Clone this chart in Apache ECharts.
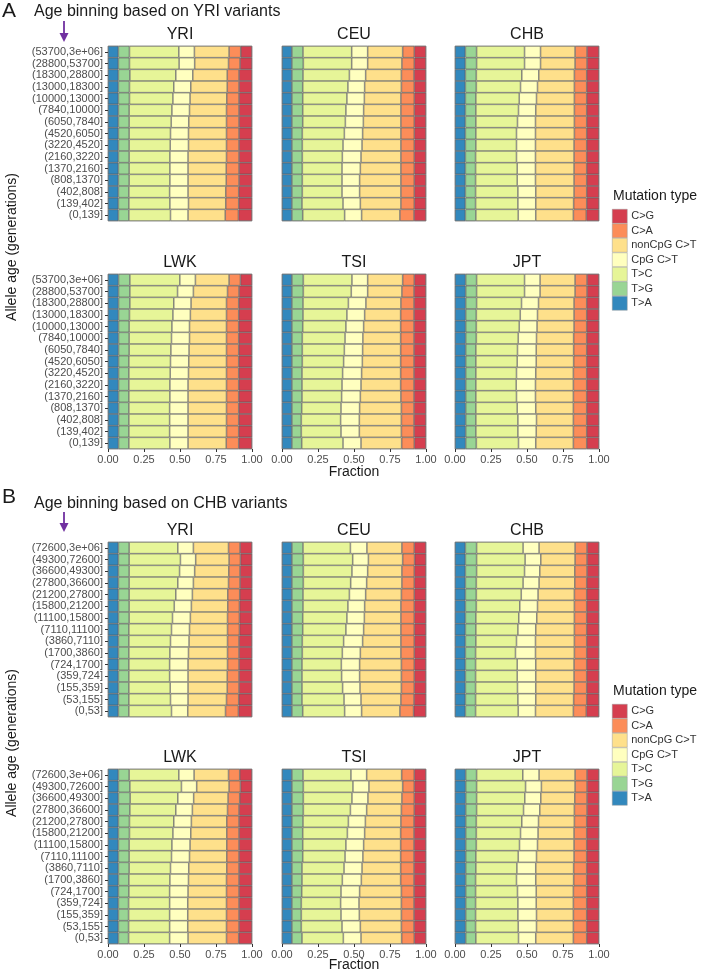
<!DOCTYPE html>
<html><head><meta charset="utf-8">
<script src="https://cdn.jsdelivr.net/npm/echarts@6/dist/echarts.min.js"></script>
<style>html,body{margin:0;padding:0;background:#fff}#c{width:701px;height:973px}</style>
</head><body><div id="c"></div>
<script>
// ---- categories / labels ----
const typeNames = ['T>A','T>G','T>C','CpG C>T','nonCpG C>T','C>A','C>G'];
const typeColors = ['#3288BD','#99D594','#E6F598','#FFFFBF','#FEE08B','#FC8D59','#D53E4F'];
const legendOrder = ['C>G','C>A','nonCpG C>T','CpG C>T','T>C','T>G','T>A'];
const populations = ['YRI','CEU','CHB','LWK','TSI','JPT'];
const agesA = ['(53700,3e+06]','(28800,53700]','(18300,28800]','(13000,18300]','(10000,13000]','(7840,10000]','(6050,7840]','(4520,6050]','(3220,4520]','(2160,3220]','(1370,2160]','(808,1370]','(402,808]','(139,402]','(0,139]'];
const agesB = ['(72600,3e+06]','(49300,72600]','(36600,49300]','(27800,36600]','(21200,27800]','(15800,21200]','(11100,15800]','(7110,11100]','(3860,7110]','(1700,3860]','(724,1700]','(359,724]','(155,359]','(53,155]','(0,53]'];

// ---- cumulative right edge of each mutation type per age bin (top bin first) ----
// Panel A
const A_YRI_TA  = [0.072,0.072,0.072,0.072,0.072,0.072,0.072,0.072,0.072,0.072,0.072,0.072,0.072,0.072,0.072];
const A_YRI_TG  = [0.149,0.149,0.152,0.149,0.149,0.147,0.147,0.147,0.147,0.147,0.147,0.147,0.145,0.145,0.145];
const A_YRI_TC  = [0.492,0.494,0.471,0.457,0.451,0.444,0.439,0.434,0.432,0.430,0.430,0.430,0.428,0.430,0.434];
const A_YRI_CpG = [0.600,0.602,0.589,0.575,0.570,0.566,0.561,0.559,0.559,0.556,0.556,0.556,0.556,0.559,0.556];
const A_YRI_non = [0.841,0.837,0.828,0.828,0.825,0.823,0.823,0.823,0.823,0.823,0.821,0.821,0.818,0.818,0.814];
const A_YRI_CA  = [0.922,0.917,0.910,0.910,0.910,0.910,0.910,0.910,0.910,0.910,0.910,0.910,0.908,0.908,0.906];

const A_CEU_TA  = [0.069,0.069,0.069,0.069,0.069,0.069,0.069,0.069,0.069,0.069,0.069,0.069,0.069,0.069,0.069];
const A_CEU_TG  = [0.146,0.148,0.146,0.144,0.144,0.144,0.144,0.141,0.141,0.141,0.141,0.141,0.141,0.139,0.144];
const A_CEU_TC  = [0.484,0.484,0.468,0.458,0.451,0.444,0.440,0.433,0.424,0.419,0.417,0.417,0.417,0.424,0.435];
const A_CEU_CpG = [0.595,0.595,0.581,0.574,0.572,0.567,0.565,0.560,0.556,0.549,0.544,0.539,0.539,0.544,0.553];
const A_CEU_non = [0.838,0.833,0.829,0.829,0.826,0.826,0.826,0.826,0.826,0.826,0.826,0.826,0.826,0.826,0.819];
const A_CEU_CA  = [0.919,0.919,0.917,0.919,0.919,0.919,0.919,0.919,0.919,0.919,0.919,0.919,0.919,0.919,0.917];

const A_CHB_TA  = [0.072,0.072,0.072,0.072,0.072,0.072,0.072,0.072,0.072,0.072,0.072,0.072,0.072,0.072,0.072];
const A_CHB_TG  = [0.150,0.150,0.148,0.148,0.145,0.145,0.145,0.145,0.145,0.143,0.143,0.143,0.143,0.143,0.145];
const A_CHB_TC  = [0.483,0.483,0.464,0.455,0.446,0.441,0.434,0.427,0.427,0.427,0.432,0.432,0.437,0.437,0.439];
const A_CHB_CpG = [0.594,0.594,0.582,0.573,0.566,0.561,0.559,0.559,0.559,0.559,0.559,0.559,0.561,0.561,0.561];
const A_CHB_non = [0.834,0.834,0.829,0.829,0.829,0.829,0.829,0.829,0.827,0.827,0.827,0.827,0.827,0.824,0.822];
const A_CHB_CA  = [0.917,0.917,0.915,0.915,0.915,0.915,0.915,0.915,0.915,0.915,0.915,0.915,0.915,0.915,0.912];

const A_LWK_TA  = [0.073,0.073,0.073,0.073,0.073,0.073,0.073,0.073,0.073,0.073,0.073,0.073,0.073,0.073,0.073];
const A_LWK_TG  = [0.152,0.152,0.152,0.149,0.147,0.147,0.147,0.145,0.145,0.145,0.145,0.145,0.145,0.145,0.145];
const A_LWK_TC  = [0.499,0.483,0.457,0.451,0.444,0.441,0.437,0.434,0.432,0.430,0.430,0.428,0.428,0.428,0.430];
const A_LWK_CpG = [0.607,0.593,0.577,0.572,0.566,0.566,0.563,0.561,0.559,0.556,0.556,0.556,0.556,0.556,0.556];
const A_LWK_non = [0.841,0.830,0.823,0.823,0.823,0.823,0.823,0.823,0.823,0.823,0.823,0.823,0.823,0.823,0.821];
const A_LWK_CA  = [0.920,0.910,0.908,0.908,0.908,0.908,0.908,0.908,0.908,0.908,0.908,0.908,0.908,0.908,0.908];

const A_TSI_TA  = [0.069,0.069,0.069,0.069,0.069,0.069,0.069,0.069,0.069,0.069,0.069,0.069,0.069,0.069,0.069];
const A_TSI_TG  = [0.148,0.148,0.146,0.146,0.144,0.141,0.141,0.141,0.139,0.139,0.139,0.137,0.134,0.134,0.137];
const A_TSI_TC  = [0.486,0.481,0.461,0.451,0.444,0.438,0.433,0.428,0.421,0.417,0.414,0.410,0.407,0.410,0.424];
const A_TSI_CpG = [0.595,0.595,0.583,0.574,0.567,0.562,0.560,0.558,0.553,0.549,0.544,0.539,0.537,0.537,0.549];
const A_TSI_non = [0.838,0.833,0.826,0.824,0.824,0.824,0.824,0.824,0.824,0.824,0.826,0.829,0.829,0.829,0.831];
const A_TSI_CA  = [0.919,0.917,0.917,0.917,0.917,0.917,0.917,0.917,0.917,0.917,0.917,0.917,0.917,0.917,0.919];

const A_JPT_TA  = [0.074,0.074,0.074,0.074,0.074,0.074,0.074,0.074,0.074,0.074,0.074,0.074,0.074,0.074,0.074];
const A_JPT_TG  = [0.150,0.150,0.150,0.148,0.148,0.148,0.145,0.145,0.145,0.145,0.145,0.145,0.145,0.145,0.148];
const A_JPT_TC  = [0.483,0.483,0.462,0.453,0.446,0.439,0.434,0.432,0.427,0.425,0.427,0.432,0.437,0.437,0.441];
const A_JPT_CpG = [0.591,0.591,0.580,0.573,0.570,0.566,0.564,0.564,0.561,0.559,0.559,0.561,0.566,0.564,0.561];
const A_JPT_non = [0.834,0.834,0.827,0.827,0.827,0.824,0.824,0.824,0.822,0.822,0.822,0.822,0.822,0.822,0.822];
const A_JPT_CA  = [0.917,0.917,0.915,0.915,0.915,0.915,0.915,0.915,0.915,0.915,0.915,0.915,0.915,0.915,0.915];

// Panel B
const B_YRI_TA  = [0.072,0.072,0.072,0.072,0.072,0.072,0.072,0.072,0.072,0.072,0.072,0.072,0.072,0.072,0.072];
const B_YRI_TG  = [0.147,0.147,0.147,0.147,0.147,0.147,0.147,0.145,0.145,0.145,0.145,0.145,0.145,0.145,0.145];
const B_YRI_TC  = [0.485,0.503,0.497,0.485,0.471,0.460,0.448,0.441,0.434,0.430,0.428,0.428,0.432,0.434,0.441];
const B_YRI_CpG = [0.593,0.609,0.602,0.593,0.586,0.579,0.572,0.566,0.563,0.559,0.556,0.556,0.556,0.556,0.554];
const B_YRI_non = [0.837,0.841,0.839,0.837,0.832,0.832,0.830,0.830,0.830,0.830,0.830,0.828,0.828,0.823,0.816];
const B_YRI_CA  = [0.917,0.920,0.917,0.917,0.915,0.913,0.913,0.913,0.910,0.910,0.910,0.910,0.910,0.908,0.906];

const B_CEU_TA  = [0.069,0.069,0.069,0.069,0.069,0.069,0.069,0.069,0.069,0.069,0.069,0.069,0.069,0.069,0.069];
const B_CEU_TG  = [0.146,0.148,0.148,0.148,0.146,0.146,0.144,0.144,0.141,0.141,0.139,0.139,0.139,0.139,0.144];
const B_CEU_TC  = [0.475,0.491,0.486,0.477,0.468,0.458,0.451,0.444,0.428,0.419,0.412,0.414,0.421,0.431,0.435];
const B_CEU_CpG = [0.590,0.600,0.595,0.588,0.581,0.574,0.572,0.567,0.560,0.544,0.539,0.539,0.542,0.549,0.553];
const B_CEU_non = [0.833,0.838,0.833,0.833,0.829,0.826,0.826,0.826,0.826,0.826,0.829,0.829,0.829,0.826,0.819];
const B_CEU_CA  = [0.919,0.921,0.919,0.919,0.919,0.919,0.919,0.919,0.919,0.919,0.919,0.919,0.919,0.917,0.914];

const B_CHB_TA  = [0.072,0.072,0.072,0.072,0.072,0.072,0.072,0.072,0.072,0.072,0.072,0.072,0.072,0.072,0.072];
const B_CHB_TG  = [0.150,0.150,0.150,0.148,0.148,0.148,0.145,0.145,0.145,0.143,0.143,0.143,0.143,0.143,0.143];
const B_CHB_TC  = [0.473,0.487,0.483,0.473,0.460,0.450,0.443,0.437,0.427,0.420,0.432,0.432,0.434,0.437,0.439];
const B_CHB_CpG = [0.584,0.596,0.589,0.584,0.577,0.573,0.568,0.561,0.559,0.559,0.561,0.561,0.561,0.561,0.559];
const B_CHB_non = [0.834,0.834,0.832,0.832,0.829,0.829,0.829,0.829,0.829,0.829,0.827,0.827,0.827,0.824,0.822];
const B_CHB_CA  = [0.917,0.917,0.917,0.915,0.915,0.915,0.915,0.915,0.915,0.915,0.915,0.915,0.915,0.915,0.912];

const B_LWK_TA  = [0.072,0.072,0.072,0.072,0.072,0.072,0.072,0.072,0.072,0.072,0.072,0.072,0.072,0.072,0.072];
const B_LWK_TG  = [0.147,0.152,0.154,0.152,0.149,0.149,0.147,0.147,0.147,0.145,0.145,0.143,0.143,0.143,0.143];
const B_LWK_TC  = [0.492,0.510,0.485,0.471,0.457,0.451,0.444,0.441,0.434,0.430,0.428,0.428,0.428,0.428,0.428];
const B_LWK_CpG = [0.598,0.616,0.595,0.586,0.579,0.575,0.570,0.566,0.561,0.559,0.556,0.554,0.554,0.554,0.556];
const B_LWK_non = [0.837,0.841,0.834,0.830,0.825,0.825,0.825,0.825,0.825,0.823,0.823,0.823,0.823,0.823,0.823];
const B_LWK_CA  = [0.915,0.920,0.915,0.910,0.910,0.910,0.910,0.910,0.910,0.910,0.910,0.910,0.910,0.910,0.908];

const B_TSI_TA  = [0.069,0.069,0.069,0.069,0.069,0.069,0.069,0.069,0.069,0.069,0.069,0.069,0.069,0.069,0.069];
const B_TSI_TG  = [0.146,0.148,0.148,0.148,0.146,0.144,0.144,0.144,0.139,0.139,0.137,0.134,0.134,0.134,0.139];
const B_TSI_TC  = [0.479,0.493,0.486,0.475,0.461,0.454,0.444,0.438,0.431,0.419,0.410,0.407,0.410,0.417,0.426];
const B_TSI_CpG = [0.588,0.604,0.597,0.588,0.579,0.574,0.567,0.562,0.556,0.551,0.539,0.535,0.537,0.544,0.549];
const B_TSI_non = [0.831,0.838,0.833,0.829,0.826,0.824,0.824,0.824,0.824,0.824,0.829,0.829,0.829,0.829,0.831];
const B_TSI_CA  = [0.919,0.919,0.919,0.919,0.917,0.917,0.917,0.917,0.917,0.917,0.917,0.917,0.917,0.917,0.919];

const B_JPT_TA  = [0.074,0.074,0.074,0.074,0.074,0.074,0.074,0.074,0.074,0.074,0.074,0.074,0.074,0.074,0.074];
const B_JPT_TG  = [0.150,0.150,0.150,0.150,0.148,0.148,0.148,0.145,0.145,0.143,0.143,0.143,0.143,0.143,0.145];
const B_JPT_TC  = [0.471,0.490,0.485,0.476,0.464,0.455,0.448,0.439,0.430,0.427,0.434,0.437,0.437,0.439,0.441];
const B_JPT_CpG = [0.584,0.600,0.596,0.589,0.580,0.577,0.573,0.566,0.561,0.561,0.564,0.564,0.566,0.566,0.561];
const B_JPT_non = [0.834,0.834,0.832,0.829,0.829,0.827,0.827,0.827,0.824,0.824,0.822,0.822,0.822,0.822,0.822];
const B_JPT_CA  = [0.917,0.917,0.917,0.917,0.915,0.915,0.915,0.915,0.915,0.915,0.915,0.915,0.915,0.915,0.915];

// ---- assemble ----
const facetEdges = {
  A: [[A_YRI_TA,A_YRI_TG,A_YRI_TC,A_YRI_CpG,A_YRI_non,A_YRI_CA],
      [A_CEU_TA,A_CEU_TG,A_CEU_TC,A_CEU_CpG,A_CEU_non,A_CEU_CA],
      [A_CHB_TA,A_CHB_TG,A_CHB_TC,A_CHB_CpG,A_CHB_non,A_CHB_CA],
      [A_LWK_TA,A_LWK_TG,A_LWK_TC,A_LWK_CpG,A_LWK_non,A_LWK_CA],
      [A_TSI_TA,A_TSI_TG,A_TSI_TC,A_TSI_CpG,A_TSI_non,A_TSI_CA],
      [A_JPT_TA,A_JPT_TG,A_JPT_TC,A_JPT_CpG,A_JPT_non,A_JPT_CA]],
  B: [[B_YRI_TA,B_YRI_TG,B_YRI_TC,B_YRI_CpG,B_YRI_non,B_YRI_CA],
      [B_CEU_TA,B_CEU_TG,B_CEU_TC,B_CEU_CpG,B_CEU_non,B_CEU_CA],
      [B_CHB_TA,B_CHB_TG,B_CHB_TC,B_CHB_CpG,B_CHB_non,B_CHB_CA],
      [B_LWK_TA,B_LWK_TG,B_LWK_TC,B_LWK_CpG,B_LWK_non,B_LWK_CA],
      [B_TSI_TA,B_TSI_TG,B_TSI_TC,B_TSI_CpG,B_TSI_non,B_TSI_CA],
      [B_JPT_TA,B_JPT_TG,B_JPT_TC,B_JPT_CpG,B_JPT_non,B_JPT_CA]]
};

function segments(edges) {
  // per-type fractions from cumulative edges (7 types)
  const out = [];
  for (let k = 0; k < 7; k++) {
    out.push(edges[0].map((_, i) => {
      const prev = k === 0 ? 0 : edges[k - 1][i];
      const cur = k === 6 ? 1 : edges[k][i];
      return +(cur - prev).toFixed(4);
    }));
  }
  return out;
}

const FAM = 'Liberation Sans';
const FONT = '"Liberation Sans", Arial, sans-serif';
const colLeft = [108, 282, 455];
const panelW = 144, panelH = 175;
const rowTop = { A: [46, 274], B: [542, 769] };
const agesOf = { A: agesA, B: agesB };

const grids = [], xAxes = [], yAxes = [], series = [];
let gi = 0;
['A', 'B'].forEach(p => {
  facetEdges[p].forEach((edges, f) => {
    const r = Math.floor(f / 3), c = f % 3;
    grids.push({ left: colLeft[c], top: rowTop[p][r], width: panelW, height: panelH,
      show: true, borderColor: '#b0b0b0', borderWidth: 1, backgroundColor: 'transparent' });
    xAxes.push({ gridIndex: gi, type: 'value', min: 0, max: 1, interval: 0.25,
      axisLine: { show: false },
      axisTick: { show: r === 1, length: 3, lineStyle: { color: '#333', width: 1 } },
      axisLabel: { show: r === 1, margin: 5, fontSize: 11, fontFamily: FAM, color: '#4d4d4d',
        formatter: v => v.toFixed(2), showMinLabel: true, showMaxLabel: true },
      splitLine: { show: false } });
    yAxes.push({ gridIndex: gi, type: 'category', data: agesOf[p], inverse: true,
      axisLine: { show: false },
      axisTick: { show: c === 0, length: 3, alignWithLabel: true, interval: 0, lineStyle: { color: '#333', width: 1 } },
      axisLabel: { show: c === 0, interval: 0, margin: 5, fontSize: 11, lineHeight: 11, fontFamily: FAM,
        color: '#4d4d4d', hideOverlap: false },
      splitLine: { show: false } });
    const segs = segments(edges);
    segs.forEach((vals, k) => {
      series.push({ type: 'bar', name: typeNames[k], xAxisIndex: gi, yAxisIndex: gi,
        stack: 'st' + gi, data: vals, barCategoryGap: '0%', barGap: '0%',
        itemStyle: { color: typeColors[k], borderColor: '#555555', borderWidth: 0.6 },
        emphasis: { disabled: true }, silent: true, animation: false });
    });
    gi++;
  });
});

function txt(x, y, text, size, opts) {
  opts = opts || {};
  return { type: 'text', x: x, y: y, rotation: opts.rot || 0, silent: true,
    style: { text: text, font: size + 'px ' + FONT, fill: opts.fill || '#1a1a1a',
      align: opts.align || 'left', verticalAlign: 'middle',
      textAlign: opts.align || 'left', textVerticalAlign: 'middle' } };
}

const graphics = [];
graphics.push(txt(2, 11, 'A', 21));
graphics.push(txt(34, 12, 'Age binning based on YRI variants', 16));
graphics.push(txt(2, 497, 'B', 21));
graphics.push(txt(34, 504, 'Age binning based on CHB variants', 16));
[[21, 42], [512, 532]].forEach(([y0, y1]) => {
  graphics.push({ type: 'line', silent: true, shape: { x1: 64, y1: y0, x2: 64, y2: y1 - 6 },
    style: { stroke: '#7030A0', lineWidth: 1.8 } });
  graphics.push({ type: 'polygon', silent: true, shape: { points: [[59.5, y1 - 9], [68.5, y1 - 9], [64, y1]] },
    style: { fill: '#7030A0' } });
});
['A', 'B'].forEach(p => {
  populations.forEach((name, f) => {
    const r = Math.floor(f / 3), c = f % 3;
    graphics.push(txt(colLeft[c] + panelW / 2, rowTop[p][r] - 11, name, 16, { align: 'center' }));
  });
});
graphics.push(txt(12, 247, 'Allele age (generations)', 14, { align: 'center', rot: Math.PI / 2 }));
graphics.push(txt(12, 743, 'Allele age (generations)', 14, { align: 'center', rot: Math.PI / 2 }));
graphics.push(txt(354, 472, 'Fraction', 14, { align: 'center' }));
graphics.push(txt(354, 965, 'Fraction', 14, { align: 'center' }));
graphics.push(txt(613, 196, 'Mutation type', 14));
graphics.push(txt(613, 691, 'Mutation type', 14));

function legendAt(top) {
  return { data: legendOrder, orient: 'vertical', left: 612, top: top, padding: 0,
    itemWidth: 15, itemHeight: 14, itemGap: 0, icon: 'rect', selectedMode: false,
    itemStyle: { borderColor: '#999999', borderWidth: 0.5 },
    textStyle: { fontSize: 11, fontFamily: FAM, color: '#333333', lineHeight: 14, padding: [0, 0, 0, -1] } };
}

const chart = echarts.init(document.getElementById('c'), null, { renderer: 'canvas' });
chart.setOption({
  backgroundColor: '#ffffff',
  animation: false,
  grid: grids, xAxis: xAxes, yAxis: yAxes, series: series,
  legend: [legendAt(209), legendAt(704)],
  graphic: graphics
});
</script></body></html>
